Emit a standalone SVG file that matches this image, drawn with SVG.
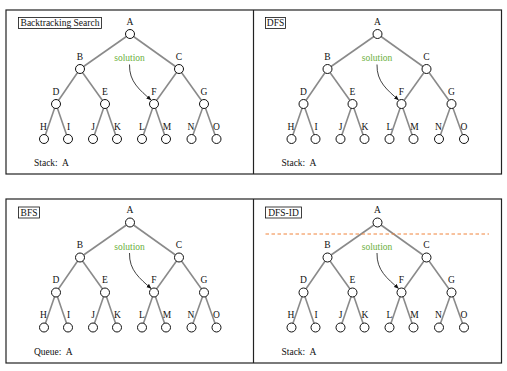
<svg xmlns="http://www.w3.org/2000/svg" width="507" height="371" viewBox="0 0 507 371">
<defs>
<style>
.frame{fill:none;stroke:#222;stroke-width:1.2}
.e{stroke:#8a8a8a;stroke-width:1.6;fill:none}
.n circle{fill:#fff;stroke:#111;stroke-width:1}
.t{font-family:"Liberation Serif","DejaVu Serif",serif;font-size:9.5px;fill:#111}
.lbl{text-anchor:middle}
.sol{font-family:"Liberation Serif","DejaVu Serif",serif;font-size:9.5px;fill:#6aaf3c;text-anchor:middle}
.tb{fill:#fff;stroke:#111;stroke-width:0.8}
.arr{fill:none;stroke:#111;stroke-width:0.8}
.cut{stroke:#f0843c;stroke-width:1;stroke-dasharray:3.5,2.5}
</style>
<marker id="ah" viewBox="0 0 6 6" refX="5.5" refY="3" markerWidth="5" markerHeight="5" orient="auto" markerUnits="userSpaceOnUse">
<path d="M0,0.5 L6,3 L0,5.5 z" fill="#111"/>
</marker>
</defs>
<rect class="frame" x="6" y="10" width="495.5" height="164"/>
<line class="frame" x1="253.5" y1="10" x2="253.5" y2="174"/>
<rect class="frame" x="6" y="199" width="495.5" height="164"/>
<line class="frame" x1="253.5" y1="199" x2="253.5" y2="363"/>

<!-- Panel 1: Backtracking Search -->
<g id="p1" transform="translate(0,0)">
<rect class="tb" x="18.5" y="17.5" width="83" height="11"/>
<text class="t" x="60" y="26" text-anchor="middle">Backtracking Search</text>
<g id="p1-connectors">
<line class="e" x1="130" y1="34" x2="80" y2="69"/><line class="e" x1="130" y1="34" x2="179" y2="69"/>
<line class="e" x1="80" y1="69" x2="56" y2="104"/><line class="e" x1="80" y1="69" x2="105" y2="104"/>
<line class="e" x1="179" y1="69" x2="154" y2="104"/><line class="e" x1="179" y1="69" x2="204" y2="104"/>
<line class="e" x1="56" y1="104" x2="44" y2="139"/><line class="e" x1="56" y1="104" x2="68" y2="139"/>
<line class="e" x1="105" y1="104" x2="93" y2="139"/><line class="e" x1="105" y1="104" x2="117" y2="139"/>
<line class="e" x1="154" y1="104" x2="142" y2="139"/><line class="e" x1="154" y1="104" x2="166" y2="139"/>
<line class="e" x1="204" y1="104" x2="191.5" y2="139"/><line class="e" x1="204" y1="104" x2="216.5" y2="139"/>
<path class="arr" d="M129.5,64.5 C129,82 140,90 151,100" marker-end="url(#ah)"/>
</g>
<g id="p1-A" class="n"><circle cx="130" cy="34" r="4.5"/><text class="t lbl" x="130" y="24.5">A</text></g>
<g id="p1-B" class="n"><circle cx="80" cy="69" r="4.5"/><text class="t lbl" x="80" y="59.5">B</text></g>
<g id="p1-C" class="n"><circle cx="179" cy="69" r="4.5"/><text class="t lbl" x="179" y="59.5">C</text></g>
<g id="p1-D" class="n"><circle cx="56" cy="104" r="4.5"/><text class="t lbl" x="56" y="94.5">D</text></g>
<g id="p1-E" class="n"><circle cx="105" cy="104" r="4.5"/><text class="t lbl" x="105" y="94.5">E</text></g>
<g id="p1-F" class="n"><circle cx="154" cy="104" r="4.5"/><text class="t lbl" x="154" y="94.5">F</text></g>
<g id="p1-G" class="n"><circle cx="204" cy="104" r="4.5"/><text class="t lbl" x="204" y="94.5">G</text></g>
<g id="p1-H" class="n"><circle cx="44" cy="139" r="4.5"/><text class="t lbl" x="43.5" y="129.5">H</text></g>
<g id="p1-I" class="n"><circle cx="68" cy="139" r="4.5"/><text class="t lbl" x="68.5" y="129.5">I</text></g>
<g id="p1-J" class="n"><circle cx="93" cy="139" r="4.5"/><text class="t lbl" x="93" y="129.5">J</text></g>
<g id="p1-K" class="n"><circle cx="117" cy="139" r="4.5"/><text class="t lbl" x="117.5" y="129.5">K</text></g>
<g id="p1-L" class="n"><circle cx="142" cy="139" r="4.5"/><text class="t lbl" x="142" y="129.5">L</text></g>
<g id="p1-M" class="n"><circle cx="166" cy="139" r="4.5"/><text class="t lbl" x="167" y="129.5">M</text></g>
<g id="p1-N" class="n"><circle cx="191.5" cy="139" r="4.5"/><text class="t lbl" x="191" y="129.5">N</text></g>
<g id="p1-O" class="n"><circle cx="216.5" cy="139" r="4.5"/><text class="t lbl" x="216.5" y="129.5">O</text></g>
<text class="sol" x="129.5" y="61">solution</text>
<text class="t" x="34" y="166" xml:space="preserve">Stack:  A</text>
</g>

<!-- Panel 2: DFS -->
<g id="p2" transform="translate(247.5,0)">
<rect class="tb" x="18" y="17.5" width="20" height="11"/>
<text class="t" x="28" y="26" text-anchor="middle">DFS</text>
<g id="p2-connectors">
<line class="e" x1="130" y1="34" x2="80" y2="69"/><line class="e" x1="130" y1="34" x2="179" y2="69"/>
<line class="e" x1="80" y1="69" x2="56" y2="104"/><line class="e" x1="80" y1="69" x2="105" y2="104"/>
<line class="e" x1="179" y1="69" x2="154" y2="104"/><line class="e" x1="179" y1="69" x2="204" y2="104"/>
<line class="e" x1="56" y1="104" x2="44" y2="139"/><line class="e" x1="56" y1="104" x2="68" y2="139"/>
<line class="e" x1="105" y1="104" x2="93" y2="139"/><line class="e" x1="105" y1="104" x2="117" y2="139"/>
<line class="e" x1="154" y1="104" x2="142" y2="139"/><line class="e" x1="154" y1="104" x2="166" y2="139"/>
<line class="e" x1="204" y1="104" x2="191.5" y2="139"/><line class="e" x1="204" y1="104" x2="216.5" y2="139"/>
<path class="arr" d="M129.5,64.5 C129,82 140,90 151,100" marker-end="url(#ah)"/>
</g>
<g id="p2-A" class="n"><circle cx="130" cy="34" r="4.5"/><text class="t lbl" x="130" y="24.5">A</text></g>
<g id="p2-B" class="n"><circle cx="80" cy="69" r="4.5"/><text class="t lbl" x="80" y="59.5">B</text></g>
<g id="p2-C" class="n"><circle cx="179" cy="69" r="4.5"/><text class="t lbl" x="179" y="59.5">C</text></g>
<g id="p2-D" class="n"><circle cx="56" cy="104" r="4.5"/><text class="t lbl" x="56" y="94.5">D</text></g>
<g id="p2-E" class="n"><circle cx="105" cy="104" r="4.5"/><text class="t lbl" x="105" y="94.5">E</text></g>
<g id="p2-F" class="n"><circle cx="154" cy="104" r="4.5"/><text class="t lbl" x="154" y="94.5">F</text></g>
<g id="p2-G" class="n"><circle cx="204" cy="104" r="4.5"/><text class="t lbl" x="204" y="94.5">G</text></g>
<g id="p2-H" class="n"><circle cx="44" cy="139" r="4.5"/><text class="t lbl" x="43.5" y="129.5">H</text></g>
<g id="p2-I" class="n"><circle cx="68" cy="139" r="4.5"/><text class="t lbl" x="68.5" y="129.5">I</text></g>
<g id="p2-J" class="n"><circle cx="93" cy="139" r="4.5"/><text class="t lbl" x="93" y="129.5">J</text></g>
<g id="p2-K" class="n"><circle cx="117" cy="139" r="4.5"/><text class="t lbl" x="117.5" y="129.5">K</text></g>
<g id="p2-L" class="n"><circle cx="142" cy="139" r="4.5"/><text class="t lbl" x="142" y="129.5">L</text></g>
<g id="p2-M" class="n"><circle cx="166" cy="139" r="4.5"/><text class="t lbl" x="167" y="129.5">M</text></g>
<g id="p2-N" class="n"><circle cx="191.5" cy="139" r="4.5"/><text class="t lbl" x="191" y="129.5">N</text></g>
<g id="p2-O" class="n"><circle cx="216.5" cy="139" r="4.5"/><text class="t lbl" x="216.5" y="129.5">O</text></g>
<text class="sol" x="129.5" y="61">solution</text>
<text class="t" x="34" y="166" xml:space="preserve">Stack:  A</text>
</g>

<!-- Panel 3: BFS -->
<g id="p3" transform="translate(0,188.5)">
<rect class="tb" x="18.5" y="18.5" width="21" height="11"/>
<text class="t" x="29" y="27" text-anchor="middle">BFS</text>
<g id="p3-connectors">
<line class="e" x1="130" y1="34" x2="80" y2="69"/><line class="e" x1="130" y1="34" x2="179" y2="69"/>
<line class="e" x1="80" y1="69" x2="56" y2="104"/><line class="e" x1="80" y1="69" x2="105" y2="104"/>
<line class="e" x1="179" y1="69" x2="154" y2="104"/><line class="e" x1="179" y1="69" x2="204" y2="104"/>
<line class="e" x1="56" y1="104" x2="44" y2="139"/><line class="e" x1="56" y1="104" x2="68" y2="139"/>
<line class="e" x1="105" y1="104" x2="93" y2="139"/><line class="e" x1="105" y1="104" x2="117" y2="139"/>
<line class="e" x1="154" y1="104" x2="142" y2="139"/><line class="e" x1="154" y1="104" x2="166" y2="139"/>
<line class="e" x1="204" y1="104" x2="191.5" y2="139"/><line class="e" x1="204" y1="104" x2="216.5" y2="139"/>
<path class="arr" d="M129.5,64.5 C129,82 140,90 151,100" marker-end="url(#ah)"/>
</g>
<g id="p3-A" class="n"><circle cx="130" cy="34" r="4.5"/><text class="t lbl" x="130" y="24.5">A</text></g>
<g id="p3-B" class="n"><circle cx="80" cy="69" r="4.5"/><text class="t lbl" x="80" y="59.5">B</text></g>
<g id="p3-C" class="n"><circle cx="179" cy="69" r="4.5"/><text class="t lbl" x="179" y="59.5">C</text></g>
<g id="p3-D" class="n"><circle cx="56" cy="104" r="4.5"/><text class="t lbl" x="56" y="94.5">D</text></g>
<g id="p3-E" class="n"><circle cx="105" cy="104" r="4.5"/><text class="t lbl" x="105" y="94.5">E</text></g>
<g id="p3-F" class="n"><circle cx="154" cy="104" r="4.5"/><text class="t lbl" x="154" y="94.5">F</text></g>
<g id="p3-G" class="n"><circle cx="204" cy="104" r="4.5"/><text class="t lbl" x="204" y="94.5">G</text></g>
<g id="p3-H" class="n"><circle cx="44" cy="139" r="4.5"/><text class="t lbl" x="43.5" y="129.5">H</text></g>
<g id="p3-I" class="n"><circle cx="68" cy="139" r="4.5"/><text class="t lbl" x="68.5" y="129.5">I</text></g>
<g id="p3-J" class="n"><circle cx="93" cy="139" r="4.5"/><text class="t lbl" x="93" y="129.5">J</text></g>
<g id="p3-K" class="n"><circle cx="117" cy="139" r="4.5"/><text class="t lbl" x="117.5" y="129.5">K</text></g>
<g id="p3-L" class="n"><circle cx="142" cy="139" r="4.5"/><text class="t lbl" x="142" y="129.5">L</text></g>
<g id="p3-M" class="n"><circle cx="166" cy="139" r="4.5"/><text class="t lbl" x="167" y="129.5">M</text></g>
<g id="p3-N" class="n"><circle cx="191.5" cy="139" r="4.5"/><text class="t lbl" x="191" y="129.5">N</text></g>
<g id="p3-O" class="n"><circle cx="216.5" cy="139" r="4.5"/><text class="t lbl" x="216.5" y="129.5">O</text></g>
<text class="sol" x="129.5" y="61">solution</text>
<text class="t" x="34" y="166" xml:space="preserve">Queue:  A</text>
</g>

<!-- Panel 4: DFS-ID -->
<g id="p4" transform="translate(247.5,188.5)">
<rect class="tb" x="18" y="18.5" width="36" height="11"/>
<text class="t" x="36" y="27" text-anchor="middle">DFS-ID</text>
<g id="p4-connectors">
<line class="e" x1="130" y1="34" x2="80" y2="69"/><line class="e" x1="130" y1="34" x2="179" y2="69"/>
<line class="e" x1="80" y1="69" x2="56" y2="104"/><line class="e" x1="80" y1="69" x2="105" y2="104"/>
<line class="e" x1="179" y1="69" x2="154" y2="104"/><line class="e" x1="179" y1="69" x2="204" y2="104"/>
<line class="e" x1="56" y1="104" x2="44" y2="139"/><line class="e" x1="56" y1="104" x2="68" y2="139"/>
<line class="e" x1="105" y1="104" x2="93" y2="139"/><line class="e" x1="105" y1="104" x2="117" y2="139"/>
<line class="e" x1="154" y1="104" x2="142" y2="139"/><line class="e" x1="154" y1="104" x2="166" y2="139"/>
<line class="e" x1="204" y1="104" x2="191.5" y2="139"/><line class="e" x1="204" y1="104" x2="216.5" y2="139"/>
<path class="arr" d="M129.5,64.5 C129,82 140,90 151,100" marker-end="url(#ah)"/>
</g>
<line class="cut" x1="18" y1="45.5" x2="241.5" y2="45.5"/>
<g id="p4-A" class="n"><circle cx="130" cy="34" r="4.5"/><text class="t lbl" x="130" y="24.5">A</text></g>
<g id="p4-B" class="n"><circle cx="80" cy="69" r="4.5"/><text class="t lbl" x="80" y="59.5">B</text></g>
<g id="p4-C" class="n"><circle cx="179" cy="69" r="4.5"/><text class="t lbl" x="179" y="59.5">C</text></g>
<g id="p4-D" class="n"><circle cx="56" cy="104" r="4.5"/><text class="t lbl" x="56" y="94.5">D</text></g>
<g id="p4-E" class="n"><circle cx="105" cy="104" r="4.5"/><text class="t lbl" x="105" y="94.5">E</text></g>
<g id="p4-F" class="n"><circle cx="154" cy="104" r="4.5"/><text class="t lbl" x="154" y="94.5">F</text></g>
<g id="p4-G" class="n"><circle cx="204" cy="104" r="4.5"/><text class="t lbl" x="204" y="94.5">G</text></g>
<g id="p4-H" class="n"><circle cx="44" cy="139" r="4.5"/><text class="t lbl" x="43.5" y="129.5">H</text></g>
<g id="p4-I" class="n"><circle cx="68" cy="139" r="4.5"/><text class="t lbl" x="68.5" y="129.5">I</text></g>
<g id="p4-J" class="n"><circle cx="93" cy="139" r="4.5"/><text class="t lbl" x="93" y="129.5">J</text></g>
<g id="p4-K" class="n"><circle cx="117" cy="139" r="4.5"/><text class="t lbl" x="117.5" y="129.5">K</text></g>
<g id="p4-L" class="n"><circle cx="142" cy="139" r="4.5"/><text class="t lbl" x="142" y="129.5">L</text></g>
<g id="p4-M" class="n"><circle cx="166" cy="139" r="4.5"/><text class="t lbl" x="167" y="129.5">M</text></g>
<g id="p4-N" class="n"><circle cx="191.5" cy="139" r="4.5"/><text class="t lbl" x="191" y="129.5">N</text></g>
<g id="p4-O" class="n"><circle cx="216.5" cy="139" r="4.5"/><text class="t lbl" x="216.5" y="129.5">O</text></g>
<text class="sol" x="129.5" y="61">solution</text>
<text class="t" x="34" y="166" xml:space="preserve">Stack:  A</text>
</g>
</svg>
